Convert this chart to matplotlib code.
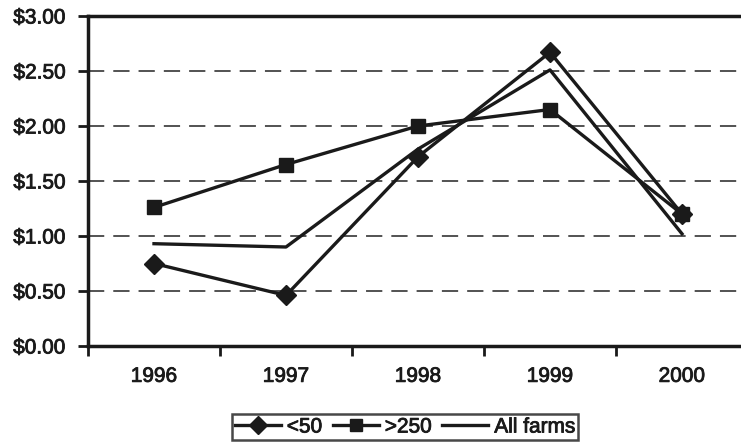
import numpy as np
import matplotlib.pyplot as plt
import matplotlib.patheffects as pe
from matplotlib.ticker import FixedLocator, NullFormatter

years = ['1996', '1997', '1998', '1999', '2000']
small = [0.75, 0.46, 1.72, 2.67, 1.20]      # <50
large = [1.26, 1.65, 2.00, 2.15, 1.20]      # >250
all_farms = [0.93, 0.90, 1.79, 2.51, 1.02]

plt.rcParams['font.family'] = ['Liberation Sans', 'DejaVu Sans']
ink = '#1a1a1a'
# slightly heavier text than the regular face
thick = [pe.withStroke(linewidth=0.6, foreground=ink)]

fig = plt.figure(figsize=(7.41, 4.45), dpi=100)
# the plot runs a little past the right edge of the figure
ax = fig.add_axes([88/741, 1 - 346/445, 660/741, 330/445])

x = np.arange(1, len(years) + 1)
ax.plot(x, small, color=ink, lw=2.4, marker='D', ms=10, label='<50', zorder=3)
ax.plot(x, large, color=ink, lw=2.4, marker='s', ms=10, label='>250', zorder=3)
ax.plot(x, all_farms, color=ink, lw=2.4, label='All farms', zorder=3)

ax.set_xlim(0.5, 5.5)
ax.set_ylim(0, 3)
ax.set_yticks(np.arange(0, 3.01, 0.5))
ax.set_yticklabels(['$%.2f' % v for v in np.arange(0, 3.01, 0.5)])
ax.yaxis.grid(True, color='#444444', lw=1.3, linestyle=(0, (9, 5)))
ax.set_axisbelow(True)

# year labels centred between the tick marks
ax.set_xticks(x)
ax.set_xticklabels(years)
ax.tick_params(axis='x', which='major', length=0, pad=15)
ax.xaxis.set_minor_locator(FixedLocator(np.arange(0.5, 6, 1)))
ax.xaxis.set_minor_formatter(NullFormatter())
ax.tick_params(axis='x', which='minor', length=7, width=2, direction='out', color=ink)
ax.tick_params(axis='y', length=7, width=2, direction='out', pad=9, color=ink)
ax.tick_params(labelsize=15, labelcolor=ink)
for lbl in ax.get_xticklabels() + ax.get_yticklabels():
    lbl.set_path_effects(thick)

for side in ['left', 'bottom', 'top']:
    ax.spines[side].set_linewidth(2.5)
    ax.spines[side].set_color(ink)
ax.spines['right'].set_visible(False)

leg = fig.legend(loc='center', bbox_to_anchor=(405/741, 1 - 427/445), ncol=3,
                 frameon=True, fancybox=False, edgecolor=ink,
                 fontsize=15, handlelength=2.2, handletextpad=0.3,
                 columnspacing=0.5, borderpad=0.15, borderaxespad=0,
                 markerscale=0.9)
leg.get_frame().set_linewidth(1.8)
for t in leg.get_texts():
    t.set_color(ink)
    t.set_path_effects(thick)

fig.savefig('out.png', dpi=100)
